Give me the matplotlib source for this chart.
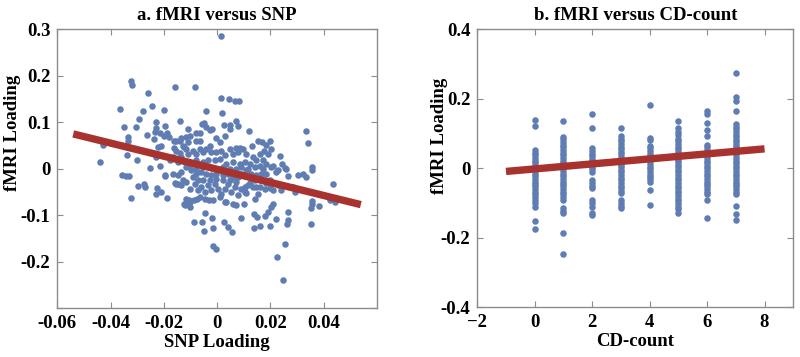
"""fMRI loading against SNP loading and against CD-count, each with its fitted line."""
import numpy as np
import matplotlib; matplotlib.use("Agg")
import matplotlib.pyplot as plt

# panel a: SNP loading vs fMRI loading
snp_x = [0.0015, -0.0324, -0.0321, -0.0259, -0.0159, -0.0084, -0.0365, -0.0278, -0.0245, -0.0293,
         -0.0200, 0.0013, 0.0045, 0.0068, 0.0083, 0.0020, -0.0040, -0.0140, -0.0350, -0.0305,
         -0.0230, -0.0228, -0.0195, 0.0073, 0.0050, 0.0078, 0.0025, -0.0050, -0.0043, 0.0120,
         0.0335, 0.0340, -0.0078, -0.0063, -0.0108, -0.0115, -0.0215, -0.0188, -0.0180, -0.0333,
         -0.0335, -0.0428, -0.0440, -0.0335, -0.0338, -0.0263, -0.0235, -0.0300, -0.0220, -0.0228,
         -0.0253, -0.0358, -0.0343, -0.0330, -0.0325, -0.0295, -0.0275, -0.0270, -0.0225, -0.0228,
         -0.0210, -0.0188, -0.0195, -0.0165, -0.0158, -0.0148, -0.0140, -0.0125, -0.0153, -0.0135,
         -0.0178, -0.0165, -0.0145, 0.0255, 0.0225, 0.0248, -0.0015, -0.0005, 0.0353, 0.0435,
         0.0443, 0.0423, 0.0383, 0.0355, 0.0353, 0.0358, 0.0355, 0.0358, 0.0305, 0.0323,
         0.0335, 0.0285, 0.0265, 0.0268, 0.0263, 0.0220, 0.0198, 0.0203, 0.0210, 0.0160,
         0.0140, 0.0140, 0.0150, 0.0180, 0.0190, 0.0090, 0.0025, 0.0040, 0.0055, -0.0015,
         -0.0020, -0.0045, -0.0055, -0.0050, -0.0085, 0.0100, 0.0073, 0.0060, 0.0030, -0.0123,
         -0.0105, -0.0085, -0.0075, 0.0235, 0.0245, 0.0255, 0.0268, 0.0130, 0.0155, 0.0168,
         0.0185, 0.0200, 0.0203, 0.0175, 0.0160, 0.0190, 0.0210, 0.0220, 0.0200, 0.0185,
         0.0198, 0.0210, 0.0160, 0.0163, 0.0155, 0.0135, 0.0123, 0.0105, 0.0110, -0.0055,
         0.0048, -0.0200, -0.0160, -0.0103, -0.0063, -0.0028, -0.0018, -0.0005, 0.0010, 0.0030,
         0.0071, 0.0085, -0.0209, -0.0160, -0.0155, -0.0138, -0.0128, -0.0115, -0.0109, -0.0090,
         -0.0078, -0.0065, -0.0053, -0.0040, -0.0028, -0.0021, -0.0003, 0.0016, 0.0029, 0.0048,
         0.0060, 0.0079, 0.0098, 0.0110, -0.0134, -0.0121, -0.0103, -0.0078, -0.0053, -0.0034,
         -0.0009, 0.0010, 0.0035, 0.0060, 0.0085, 0.0104, -0.0215, -0.0196, -0.0146, -0.0134,
         -0.0128, -0.0153, -0.0134, -0.0115, -0.0103, -0.0084, -0.0071, -0.0059, -0.0046, -0.0034,
         -0.0021, -0.0009, 0.0004, 0.0016, 0.0029, 0.0041, 0.0054, 0.0066, 0.0079, 0.0091,
         0.0104, 0.0116, -0.0115, -0.0103, -0.0065, -0.0046, -0.0030, -0.0015, 0.0010, 0.0035,
         -0.0121, -0.0103, 0.0116, 0.0141, 0.0173, 0.0204, 0.0229, 0.0260, 0.0148, 0.0179,
         0.0229, 0.0241, 0.0291, 0.0141, 0.0135, 0.0148, 0.0123, 0.0160, 0.0173, 0.0185,
         0.0110, 0.0129, 0.0148, 0.0166, 0.0185, 0.0141, 0.0091, 0.0079, 0.0060, 0.0041,
         0.0023, -0.0003, -0.0021, -0.0040, -0.0059, -0.0078, -0.0090, -0.0071, -0.0053, -0.0028,
         -0.0003, 0.0023, 0.0048, 0.0073, -0.0028, -0.0003, 0.0023, 0.0048, 0.0073, -0.0053,
         -0.0078, -0.0096, -0.0115, 0.0091, -0.0234, -0.0080, -0.0109]
snp_y = [0.2864, 0.1879, 0.1807, 0.1621, 0.1750, 0.1764, 0.1279, 0.1236, 0.1350, 0.1071,
         0.1264, 0.1521, 0.1507, 0.1450, 0.1450, 0.1193, 0.1236, 0.1021, 0.0907, 0.0907,
         0.1007, 0.0879, 0.0921, 0.1036, 0.0950, 0.0921, 0.0936, 0.0979, 0.0893, 0.0821,
         0.0821, 0.0564, 0.0764, 0.0764, 0.0850, 0.0679, 0.0779, 0.0764, 0.0679, 0.0693,
         0.0607, 0.0521, 0.0150, 0.0464, 0.0307, 0.0721, 0.0650, 0.0193, 0.0464, 0.0264,
         0.0007, -0.0136, -0.0150, -0.0164, -0.0636, -0.0364, -0.0321, -0.0393, -0.0407, -0.0536,
         -0.0493, -0.0636, -0.0164, -0.0107, -0.0307, -0.0336, 0.0336, 0.0464, 0.0607, 0.0664,
         0.0179, 0.0250, 0.0136, -0.1607, -0.1893, -0.2393, -0.1650, -0.1721, -0.1193, -0.0336,
         -0.0721, -0.0664, -0.0793, -0.0750, -0.0850, -0.0693, 0.0036, -0.0021, -0.0136, -0.0121,
         -0.0179, -0.0393, -0.0936, -0.1107, -0.1179, -0.1079, -0.1221, -0.0821, -0.0764, -0.1221,
         -0.1279, -0.0964, -0.1036, -0.1021, -0.0936, -0.1064, -0.1136, -0.1250, -0.1364, -0.1279,
         -0.1050, -0.0950, -0.1150, -0.1336, -0.1136, -0.0764, -0.0779, -0.0764, -0.0721, -0.0764,
         -0.0664, -0.0679, -0.0650, 0.0279, 0.0107, 0.0021, -0.0164, 0.0493, 0.0607, 0.0579,
         0.0521, 0.0607, 0.0421, 0.0379, 0.0321, 0.0321, 0.0064, -0.0079, -0.0250, -0.0307,
         -0.0407, -0.0464, -0.0250, -0.0393, -0.0536, -0.0393, -0.0307, -0.0393, -0.0521, 0.0971,
         0.0857, 0.0714, 0.0600, 0.0714, 0.0607, 0.0829, 0.0857, 0.0657, 0.0571, 0.0700,
         0.0457, 0.0457, 0.0486, 0.0443, 0.0393, 0.0607, 0.0500, 0.0429, 0.0321, 0.0393,
         0.0321, 0.0429, 0.0357, 0.0429, 0.0500, 0.0371, 0.0357, 0.0393, 0.0300, 0.0429,
         0.0321, 0.0357, 0.0429, 0.0321, 0.0250, 0.0143, 0.0071, 0.0179, 0.0143, 0.0179,
         0.0179, 0.0214, 0.0107, 0.0143, 0.0107, 0.0143, 0.0071, -0.0143, -0.0143, -0.0071,
         -0.0250, -0.0321, -0.0357, -0.0286, -0.0429, -0.0321, -0.0464, -0.0393, -0.0500, -0.0357,
         -0.0464, -0.0321, -0.0429, -0.0536, -0.0429, -0.0321, -0.0500, -0.0393, -0.0571, -0.0429,
         -0.0500, -0.0357, -0.0643, -0.0714, -0.0607, -0.0643, -0.0679, -0.0679, -0.0607, -0.0714,
         -0.0786, -0.0821, 0.0000, 0.0036, 0.0000, 0.0036, -0.0036, 0.0000, -0.0393, -0.0429,
         -0.0357, -0.0464, -0.0500, -0.0643, 0.0250, 0.0179, 0.0107, 0.0071, 0.0179, 0.0107,
         -0.0036, -0.0107, -0.0143, -0.0107, -0.0107, -0.0250, -0.0107, -0.0179, -0.0179, -0.0107,
         -0.0143, -0.0107, -0.0143, -0.0107, -0.0071, -0.0107, -0.0179, -0.0250, -0.0250, -0.0250,
         -0.0214, -0.0250, -0.0250, -0.0286, 0.0036, 0.0000, 0.0036, 0.0000, 0.0000, 0.0036,
         0.0000, -0.0036, 0.0036, 0.0036, 0.0786, 0.0607, 0.0571]
snp_fit_x = [-0.054, 0.054]
snp_fit_y = [0.075, -0.077]

# panel b: CD-count vs fMRI loading, one list of y values per count
cd_counts = [0, 1, 2, 3, 4, 5, 6, 7]
cd_y = [
    [0.139, 0.122, 0.053, 0.045, 0.038, 0.030, 0.022, 0.015, 0.008, 0.000, -0.008, -0.015,
     -0.022, -0.030, -0.038, -0.045, -0.052, -0.060, -0.068, -0.075, -0.083, -0.090, -0.100,
     -0.110, -0.151, -0.176],
    [0.137, 0.090, 0.083, 0.075, 0.068, 0.060, 0.052, 0.045, 0.038, 0.030, 0.022, 0.015, 0.008,
     0.000, -0.008, -0.015, -0.022, -0.030, -0.038, -0.045, -0.052, -0.060, -0.068, -0.075,
     -0.083, -0.090, -0.115, -0.122, -0.130, -0.187, -0.248],
    [0.155, 0.115, 0.058, 0.050, 0.042, 0.035, 0.028, 0.020, 0.012, 0.005, -0.003, -0.010,
     -0.035, -0.043, -0.050, -0.058, -0.090, -0.100, -0.110, -0.130, -0.135],
    [0.115, 0.092, 0.085, 0.078, 0.070, 0.062, 0.055, 0.048, 0.040, 0.032, 0.025, 0.018, 0.010,
     0.003, -0.005, -0.012, -0.020, -0.028, -0.035, -0.042, -0.050, -0.058, -0.065, -0.072,
     -0.092, -0.100, -0.108, -0.115],
    [0.182, 0.088, 0.082, 0.065, 0.058, 0.050, 0.042, 0.035, 0.028, 0.020, 0.012, 0.005, -0.002,
     -0.010, -0.018, -0.025, -0.032, -0.040, -0.062, -0.106],
    [0.137, 0.115, 0.105, 0.097, 0.085, 0.078, 0.070, 0.062, 0.055, 0.048, 0.040, 0.032, 0.025,
     0.018, 0.010, 0.003, -0.005, -0.012, -0.020, -0.028, -0.035, -0.042, -0.050, -0.058, -0.065,
     -0.072, -0.080, -0.088, -0.095, -0.102, -0.110, -0.118, -0.130],
    [0.166, 0.157, 0.130, 0.109, 0.093, 0.067, 0.060, 0.052, 0.045, 0.038, 0.030, 0.022, 0.015,
     0.008, 0.000, -0.008, -0.015, -0.022, -0.030, -0.038, -0.045, -0.052, -0.060, -0.068,
     -0.075, -0.090, -0.144],
    [0.274, 0.205, 0.194, 0.166, 0.128, 0.120, 0.112, 0.105, 0.097, 0.090, 0.082, 0.075, 0.068,
     0.060, 0.052, 0.045, 0.038, 0.030, 0.022, 0.015, 0.008, 0.000, -0.008, -0.015, -0.022,
     -0.030, -0.038, -0.045, -0.052, -0.060, -0.068, -0.075, -0.108, -0.132, -0.150],
]
cd_fit_x = [-1, 8]
cd_fit_y = [-0.009, 0.056]

DOT = "#5f7db3"; FIT = "#a8322d"; EDGE = "#8c8c8c"
FS = 13.5
plt.rcParams["font.family"] = ["Liberation Serif", "DejaVu Serif"]
plt.rcParams["font.weight"] = "bold"


def style(ax):
    for s in ax.spines.values():
        s.set_color(EDGE); s.set_linewidth(1.0)
    ax.tick_params(direction="in", top=True, right=True, color=EDGE, length=4,
                   labelsize=FS, pad=5)
    for lab in ax.get_xticklabels() + ax.get_yticklabels():
        lab.set_fontweight("bold")


fig = plt.figure(figsize=(8, 3.57), dpi=100)
a1 = fig.add_axes([0.0716, 0.1364, 0.3994, 0.7815])
a2 = fig.add_axes([0.5966, 0.1392, 0.395, 0.7787])

a1.scatter(snp_x, snp_y, s=22, c=DOT, linewidths=0, zorder=2)
a1.plot(snp_fit_x, snp_fit_y, color=FIT, lw=5.3, solid_capstyle="butt", zorder=3)
a1.set_xlim(-0.06, 0.06); a1.set_ylim(-0.3, 0.3)
a1.set_xticks([-0.06, -0.04, -0.02, 0, 0.02, 0.04])
a1.set_xticklabels(["-0.06", "-0.04", "-0.02", "0", "0.02", "0.04"])
a1.set_yticks([-0.3, -0.2, -0.1, 0, 0.1, 0.2, 0.3])
a1.set_yticklabels(["", "-0.2", "-0.1", "0", "0.1", "0.2", "0.3"])
a1.set_xlabel("SNP Loading", fontsize=FS, fontweight="bold", labelpad=1)
a1.set_ylabel("fMRI Loading", fontsize=FS, fontweight="bold")
a1.yaxis.set_label_coords(-0.115, 0.63)
a1.set_title("a. fMRI versus SNP", fontsize=FS, fontweight="bold", pad=7)
style(a1)

for c, ys in zip(cd_counts, cd_y):
    a2.scatter([c] * len(ys), ys, s=22, c=DOT, linewidths=0, zorder=2)
a2.plot(cd_fit_x, cd_fit_y, color=FIT, lw=5.3, solid_capstyle="butt", zorder=3)
a2.set_xlim(-2, 9); a2.set_ylim(-0.4, 0.4)
a2.set_xticks([-2, 0, 2, 4, 6, 8])
a2.set_yticks([-0.4, -0.2, 0, 0.2, 0.4])
a2.set_yticklabels(["-0.4", "-0.2", "0", "0.2", "0.4"])
a2.set_xlabel("CD-count", fontsize=FS, fontweight="bold", labelpad=1)
a2.set_ylabel("fMRI Loading", fontsize=FS, fontweight="bold")
a2.yaxis.set_label_coords(-0.093, 0.615)
a2.set_title("b. fMRI versus CD-count", fontsize=FS, fontweight="bold", pad=7)
style(a2)

fig.savefig("out.png", dpi=100)
